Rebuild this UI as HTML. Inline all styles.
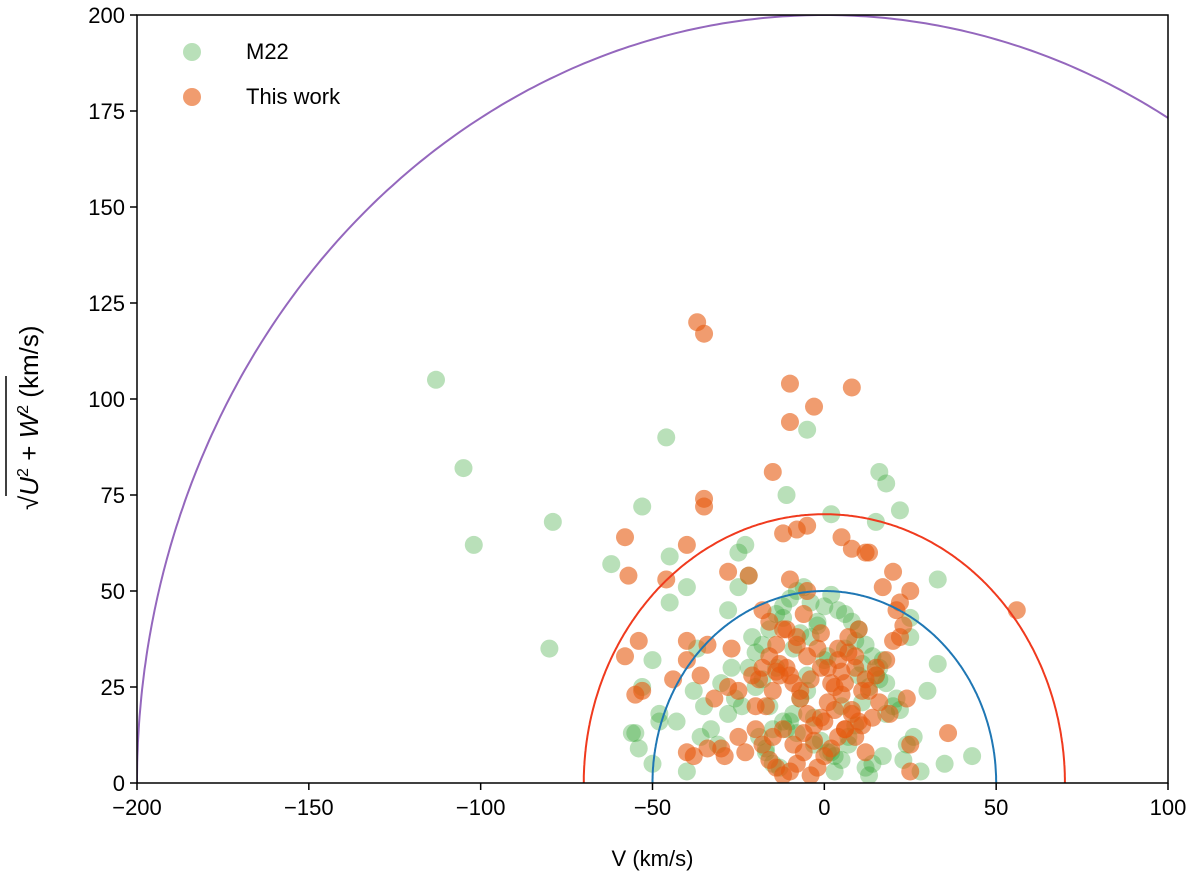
<!DOCTYPE html>
<html><head><meta charset="utf-8"><style>
body{margin:0;background:#fff;}
svg text{font-family:"Liberation Sans","DejaVu Sans",sans-serif;fill:#000;}
</style></head><body>
<svg id="chart" width="1200" height="878" xmlns="http://www.w3.org/2000/svg"></svg>
<script>
const xTicks=[-200,-150,-100,-50,0,50,100];
const yTicks=[0,25,50,75,100,125,150,175,200];
const circleRadii=[50,70,200];
const circleColors=['#1f77b4','#f03a1e','#9467bd'];
const m22V=[-113,-105,-102,-79,-80,-46,-5,-11,16,18,22,15,2,-53,-62,-45,-45,-40,-23,-25,-25,-22,-28,33,30,35,43,33,25,25,24,22,13,-55,-54,-56,-53,-50,-48,-48,-40,-50,-43,-37,-30,-35,-33,-28,-26,-22,-20,-18,-16,-14,-12,-10,-8,-6,-4,-2,0,2,4,6,8,10,12,14,16,18,20,-19,-17,-15,-13,-11,-9,-7,-5,-3,-1,1,3,5,7,9,11,13,15,17,-21,-18,-14,-9,-4,1,6,11,16,21,-24,-20,-16,-12,-8,-3,2,7,12,17,-15,-10,-5,0,5,10,-27,-31,-36,-38,18,23,26,28,14,9,-2,-7,-12,-17,3,8];
const m22R=[105,82,62,68,35,90,92,75,81,78,71,68,70,72,57,59,47,51,62,60,51,54,45,53,24,5,7,31,38,43,10,19,2,13,9,13,25,5,18,16,3,32,16,35,26,20,14,18,22,30,34,36,40,44,46,48,50,51,47,42,46,49,45,44,42,40,36,33,30,26,20,12,8,5,4,14,18,22,24,17,11,8,3,6,10,15,21,25,28,32,38,27,30,35,38,33,35,31,27,22,20,25,20,16,13,10,8,12,4,7,14,16,28,32,20,28,30,10,12,24,18,6,12,3,5,37,41,39,43,9,7];
const workV=[-37,-35,-10,8,-3,-10,-15,-35,-35,-58,-57,-46,-40,-28,-22,-18,-12,-8,-5,-10,-5,5,12,13,8,20,17,25,22,21,56,-54,-58,-55,-53,-44,-40,-40,-34,-36,-32,-28,-34,-38,-40,-30,-29,-25,-23,25,25,36,24,18,15,20,22,23,-20,-18,-16,-14,-12,-10,-8,-6,-4,-2,0,2,4,6,8,10,-17,-15,-13,-11,-9,-7,-5,-3,-1,1,3,5,7,9,-19,-16,-13,-10,-7,-4,-1,2,5,8,11,14,-15,-12,-9,-6,-3,0,3,6,9,12,-14,-11,-8,-5,-2,1,4,7,10,13,16,19,-18,-14,-6,-1,4,9,12,15,-20,-25,-27,-21,11,6,-16,-12,-8];
const workR=[120,117,104,103,98,94,81,74,72,64,54,53,62,55,54,45,65,66,67,53,50,64,60,60,61,55,51,50,47,45,45,37,33,23,24,27,37,32,36,28,22,25,9,7,8,9,7,12,8,10,3,13,22,32,28,37,38,41,14,10,6,4,2,3,5,8,2,4,7,9,12,14,18,16,20,24,28,30,26,22,18,15,17,21,25,29,34,30,27,33,31,28,24,27,30,26,23,19,15,17,12,14,10,13,11,16,19,14,12,8,36,40,38,33,35,30,32,38,40,24,21,18,30,29,44,39,35,33,27,30,20,24,35,28,24,26,42,40,36,44];
const NS='http://www.w3.org/2000/svg';
const svg=document.getElementById('chart');
const L=137,R=1168,T=15,B=783,xMin=-200,xMax=100,yMin=0,yMax=200;
const xs=v=>L+(v-xMin)/(xMax-xMin)*(R-L);
const ys=v=>B-(v-yMin)/(yMax-yMin)*(B-T);
function mk(tag,attrs,parent){const e=document.createElementNS(NS,tag);for(const k in attrs)e.setAttribute(k,attrs[k]);(parent||svg).appendChild(e);return e;}
const defs=mk('defs',{});const cp=mk('clipPath',{id:'clip'},defs);mk('rect',{x:L,y:T,width:R-L,height:B-T},cp);
const pts=mk('g',{'clip-path':'url(#clip)'});


for(let i=0;i<m22V.length;i++){const c=mk('circle',{cx:xs(m22V[i]),cy:ys(m22R[i]),r:9,fill:'rgba(44,160,44,0.33)'},pts);

}
for(let i=0;i<workV.length;i++){const c=mk('circle',{cx:xs(workV[i]),cy:ys(workR[i]),r:9,fill:'rgba(230,90,15,0.6)'},pts);

}
for(let i=0;i<circleRadii.length;i++){const r=circleRadii[i];let d='';
for(let a=0;a<=180;a+=0.5){const t=a*Math.PI/180;const px=xs(-r*Math.cos(t)),py=ys(r*Math.sin(t));d+=(a?'L':'M')+px.toFixed(1)+' '+py.toFixed(1);}
const p=mk('path',{d:d,fill:'none',stroke:circleColors[i],'stroke-width':2},pts);

}
const frame=mk('rect',{x:L,y:T,width:R-L,height:B-T,fill:'none',stroke:'#000','stroke-width':1.5});


for(const t of xTicks){mk('line',{x1:xs(t),x2:xs(t),y1:B,y2:B+7,stroke:'#000','stroke-width':1.5});
const tx=mk('text',{x:xs(t),y:B+32,'text-anchor':'middle','font-size':22});tx.textContent=String(t).replace('-','\u2212');

}
for(const t of yTicks){mk('line',{x1:L-7,x2:L,y1:ys(t),y2:ys(t),stroke:'#000','stroke-width':1.5});
const tx=mk('text',{x:L-12,y:ys(t)+8,'text-anchor':'end','font-size':22});tx.textContent=t;

}
const xl=mk('text',{x:(L+R)/2,y:866,'text-anchor':'middle','font-size':22});xl.textContent='V (km/s)';


const yl=mk('text',{transform:'translate(38,510) rotate(-90)','text-anchor':'start','font-size':26});
yl.innerHTML='\u221A<tspan font-style="italic">U</tspan><tspan font-size="16" dy="-10">2</tspan><tspan dy="10"> + </tspan><tspan font-style="italic">W</tspan><tspan font-size="16" dy="-10">2</tspan><tspan dy="10">  (km/s)</tspan>';


const ov=mk('line',{x1:6,x2:6,y1:376,y2:496,stroke:'#000','stroke-width':1.5});


const leg=mk('g',{});


mk('circle',{cx:192,cy:52,r:9,fill:'rgba(44,160,44,0.33)'},leg);
mk('circle',{cx:192,cy:97,r:9,fill:'rgba(230,90,15,0.6)'},leg);
const l1=mk('text',{x:246,y:59,'font-size':22},leg);l1.textContent='M22';


const l2=mk('text',{x:246,y:104,'font-size':22},leg);l2.textContent='This work';


</script>
</body></html>
